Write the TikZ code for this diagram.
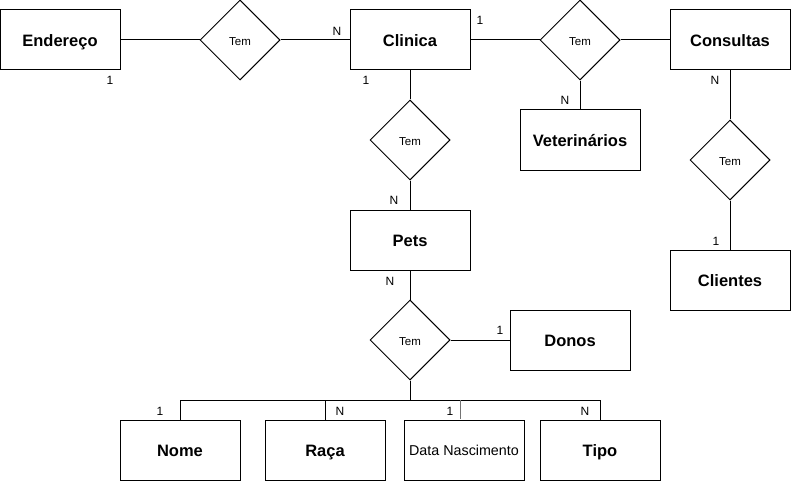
\documentclass[tikz,border=0pt]{standalone}
\usepackage{fontspec}
\setmainfont{Liberation Sans}
\usetikzlibrary{shapes.geometric}
\begin{document}
\begin{tikzpicture}[x=1pt,y=-1pt,
  line width=1pt,
  entity/.style={draw=black,fill=white,rectangle,minimum width=120pt,minimum height=60pt,inner sep=0pt,text height=13.5pt,text depth=0pt,font=\fontsize{16.5}{18}\selectfont\bfseries},
  attr/.style={draw=black,fill=white,rectangle,minimum width=120pt,minimum height=60pt,inner sep=0pt,text height=10.4pt,text depth=0pt,font=\fontsize{14.3}{16}\selectfont},
  rel/.style={draw=black,fill=white,diamond,aspect=1,minimum width=80pt,minimum height=80pt,inner sep=0pt,text height=10.3pt,text depth=0pt,font=\fontsize{11.5}{13}\selectfont},
  card/.style={inner sep=0pt,font=\fontsize{12}{14}\selectfont}]
\useasboundingbox[fill=white] (0,0) rectangle (791,481);
% entities
\node[entity] (end) at (60,40) {Endereço};
\node[entity] (cli) at (410,40) {Clinica};
\node[entity] (con) at (730,40) {Consultas};
\node[entity] (vet) at (580,140) {Veterinários};
\node[entity] (pet) at (410,240) {Pets};
\node[entity] (clt) at (730,280) {Clientes};
\node[entity] (don) at (570,340) {Donos};
\node[entity] (nom) at (180,450) {Nome};
\node[entity] (rac) at (325,450) {Raça};
\node[attr] (dat) at (464,450) {Data Nascimento};
\node[entity] (tip) at (600,450) {Tipo};
% relationships
\node[rel] (r1) at (240,40) {Tem};
\node[rel] (r2) at (580,40) {Tem};
\node[rel] (r3) at (410,140) {Tem};
\node[rel] (r4) at (730,160) {Tem};
\node[rel] (r5) at (410,340) {Tem};
% bus coordinates
\coordinate (bm) at (410,400);
\coordinate (bl) at (180,400);
\coordinate (br) at (600,400);
\coordinate (brac) at (325,400);
\coordinate (bdat) at (460,400);
\coordinate (tdat) at (460,419);
% connectors
\draw (end) -- (r1);
\draw (r1) -- (cli);
\draw (cli) -- (r2);
\draw (r2) -- (con);
\draw (r2) -- (vet);
\draw (cli) -- (r3);
\draw (r3) -- (pet);
\draw (con) -- (r4);
\draw (r4) -- (clt);
\draw (pet) -- (r5);
\draw (r5) -- (don);
\draw (r5.south) -- (bm);
\draw (nom.north) -- (bl) -- (br) -- (tip.north);
\draw (brac) -- (rac.north);
\draw[draw=black!55] (bdat) -- (tdat);
% cardinalities
\node[card] (c1) at (110,80) {1};
\node[card] (c2) at (337,31) {N};
\node[card] (c3) at (366,80) {1};
\node[card] (c4) at (480,20) {1};
\node[card] (c5) at (565,100) {N};
\node[card] (c6) at (715,80) {N};
\node[card] (c7) at (394,200) {N};
\node[card] (c8) at (390,281) {N};
\node[card] (c9) at (716,241) {1};
\node[card] (c10) at (500,330) {1};
\node[card] (c11) at (160,411) {1};
\node[card] (c12) at (340,411) {N};
\node[card] (c13) at (450,411) {1};
\node[card] (c14) at (585,411) {N};
\end{tikzpicture}
\end{document}
